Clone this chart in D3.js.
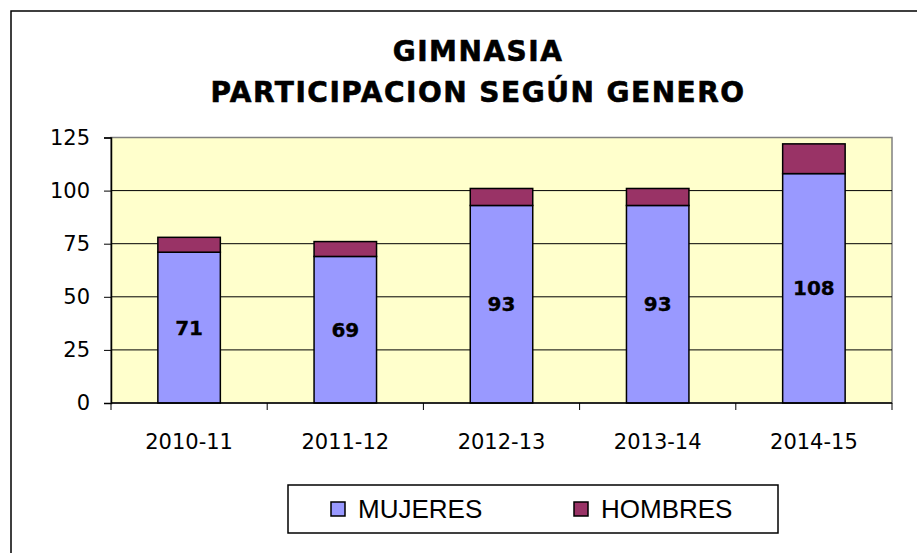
<!DOCTYPE html>
<html lang="es">
<head>
  <meta charset="utf-8">
  <title>Gimnasia - participación según género</title>
  <script src="https://d3js.org/d3.v7.min.js"></script>
  <style>
    body { margin: 0; background: #ffffff; }
    svg { display: block; }
    .title { font-family: "DejaVu Sans", Verdana, sans-serif; font-weight: bold; font-size: 28px; letter-spacing: 1.5px; fill: #000; stroke: #000; stroke-width: 0.6px; }
    .tick-label { font-family: "DejaVu Sans", Verdana, sans-serif; font-size: 21px; fill: #000; }
    .bar-label { font-family: "DejaVu Sans", Verdana, sans-serif; font-weight: bold; font-size: 20px; fill: #000; stroke: #000; stroke-width: 0.3px; }
    .legend-label { font-family: "Liberation Sans", Arial, sans-serif; font-size: 26px; fill: #000; }
  </style>
</head>
<body>
<script>
// data
var seasons = ["2010-11", "2011-12", "2012-13", "2013-14", "2014-15"];
var mujeres = [71, 69, 93, 93, 108];
var hombres = [7, 7, 8, 8, 14];
var yTicks = [0, 25, 50, 75, 100, 125];
var seriesNames = ["MUJERES", "HOMBRES"];
var seriesColors = ["#9999ff", "#993366"];

var width = 917, height = 553;
var plot = { left: 111, right: 892, top: 137.5, bottom: 403 };

var svg = d3.select("body").append("svg")
    .attr("width", width)
    .attr("height", height);

// outer chart frame (runs off the right and bottom of the picture)
svg.append("rect")
    .attr("x", 11).attr("y", 11)
    .attr("width", 1000).attr("height", 1000)
    .attr("fill", "#ffffff")
    .attr("stroke", "#000")
    .attr("stroke-width", 1.5);

// title
var title = svg.append("text")
    .attr("class", "title")
    .attr("text-anchor", "middle");
title.append("tspan").attr("x", 478).attr("y", 61).text("GIMNASIA");
title.append("tspan").attr("x", 478).attr("y", 102).text("PARTICIPACION SEGÚN GENERO");

var x = d3.scaleBand()
    .domain(seasons)
    .range([plot.left, plot.right]);

var y = d3.scaleLinear()
    .domain([0, 125])
    .range([plot.bottom, plot.top]);

// plot area
svg.append("rect")
    .attr("x", plot.left).attr("y", plot.top)
    .attr("width", plot.right - plot.left)
    .attr("height", plot.bottom - plot.top)
    .attr("fill", "#ffffcc")
    .attr("stroke", "#808080")
    .attr("stroke-width", 1.5);

// gridlines
svg.append("g")
    .selectAll("line")
    .data(yTicks.filter(d => d > 0 && d < 125))
    .enter().append("line")
    .attr("x1", plot.left).attr("x2", plot.right)
    .attr("y1", d => y(d)).attr("y2", d => y(d))
    .attr("stroke", "#000")
    .attr("stroke-width", 1);

// stacked bars
var stack = seasons.map((s, i) => ({ season: s, m: mujeres[i], h: hombres[i] }));
var barW = x.bandwidth() * 0.4;

var bars = svg.append("g")
    .selectAll("g")
    .data(stack)
    .enter().append("g");

bars.append("rect")
    .attr("x", d => x(d.season) + (x.bandwidth() - barW) / 2)
    .attr("y", d => y(d.m))
    .attr("width", barW)
    .attr("height", d => y(0) - y(d.m))
    .attr("fill", seriesColors[0])
    .attr("stroke", "#000")
    .attr("stroke-width", 1.5);

bars.append("rect")
    .attr("x", d => x(d.season) + (x.bandwidth() - barW) / 2)
    .attr("y", d => y(d.m + d.h))
    .attr("width", barW)
    .attr("height", d => y(d.m) - y(d.m + d.h))
    .attr("fill", seriesColors[1])
    .attr("stroke", "#000")
    .attr("stroke-width", 1.5);

bars.append("text")
    .attr("class", "bar-label")
    .attr("text-anchor", "middle")
    .attr("x", d => x(d.season) + x.bandwidth() / 2)
    .attr("y", d => y(d.m / 2) + 7)
    .text(d => d.m);

// y axis
var yAxis = svg.append("g")
    .attr("transform", "translate(" + plot.left + ",0)")
    .call(d3.axisLeft(y).tickValues(yTicks).tickSize(7).tickPadding(14));
yAxis.select(".domain").attr("stroke", "#000").attr("stroke-width", 1.5);
yAxis.selectAll(".tick line").attr("stroke", "#000");
yAxis.selectAll(".tick text").attr("class", "tick-label").attr("font-size", null).attr("font-family", null);

// x axis: ticks between categories
var xAxis = svg.append("g")
    .attr("transform", "translate(0," + plot.bottom + ")");
xAxis.append("line")
    .attr("x1", plot.left).attr("x2", plot.right)
    .attr("stroke", "#000").attr("stroke-width", 1.5);
var bounds = seasons.map(s => x(s)).concat([x(seasons[seasons.length - 1]) + x.bandwidth()]);
xAxis.selectAll(".xt")
    .data(bounds)
    .enter().append("line")
    .attr("x1", d => d).attr("x2", d => d)
    .attr("y1", 0).attr("y2", 7)
    .attr("stroke", "#000");
xAxis.selectAll(".xl")
    .data(seasons)
    .enter().append("text")
    .attr("class", "tick-label")
    .attr("text-anchor", "middle")
    .attr("x", d => x(d) + x.bandwidth() / 2)
    .attr("y", 46)
    .text(d => d);

// legend
var legend = svg.append("g");
legend.append("rect")
    .attr("x", 288).attr("y", 485)
    .attr("width", 490).attr("height", 48)
    .attr("fill", "#fff")
    .attr("stroke", "#000")
    .attr("stroke-width", 1.5);

var legendX = [331, 574];
var item = legend.selectAll(".item")
    .data(seriesNames)
    .enter().append("g")
    .attr("transform", (d, i) => "translate(" + legendX[i] + ",502)");
item.append("rect")
    .attr("width", 14).attr("height", 14)
    .attr("fill", (d, i) => seriesColors[i])
    .attr("stroke", "#000")
    .attr("stroke-width", 1.5);
item.append("text")
    .attr("class", "legend-label")
    .attr("x", 27).attr("y", 16)
    .text(d => d);
</script>
</body>
</html>
